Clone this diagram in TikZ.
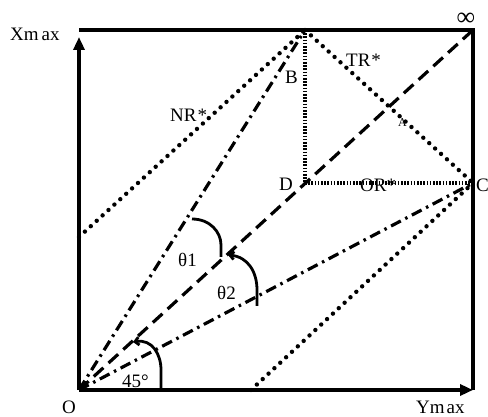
\documentclass[tikz,border=0pt]{standalone}
\usepackage{fontspec}
\setmainfont{Liberation Serif}
\usetikzlibrary{arrows.meta}
\begin{document}
\begin{tikzpicture}[x=1pt,y=-1pt,
  axisline/.style={line width=3.8pt,-{Triangle[length=13pt,width=11pt]}},
  frameline/.style={line width=3.2pt},
  dashline/.style={line width=3.2pt,dash pattern=on 13pt off 7pt},
  dashdotline/.style={line width=3.2pt,dash pattern=on 11pt off 5pt on 2.5pt off 5pt},
  dotline/.style={line width=4.4pt,line cap=round,dash pattern=on 0pt off 8pt},
  densedot/.style={line width=3.6pt,dash pattern=on 1.6pt off 1.6pt},
  arcline/.style={line width=2.8pt},
  tipmark/.style={{Straight Barb[length=4pt,width=8pt]}-},
  lbl/.style={font=\fontsize{19}{19}\selectfont,inner sep=0pt},
  smalllbl/.style={font=\fontsize{12}{12}\selectfont,inner sep=0pt}]
\useasboundingbox (0,0) rectangle (488,417);
% key points
\coordinate (O) at (79,390);
\coordinate (TL) at (79,30);
\coordinate (Xtip) at (79,37);
\coordinate (Inf) at (473,30);
\coordinate (BR) at (473,390);
\coordinate (Bt) at (305,30);
\coordinate (D) at (305,183);
\coordinate (C) at (473,183);
\coordinate (N) at (79,237);
\coordinate (L) at (251,390);
% frame and axes
\draw[frameline] (TL) -- (Inf) -- (BR);
\draw[axisline] (O) -- (Xtip);
\draw[axisline] (O) -- (BR);
% rays from the origin
\draw[dashline] (O) -- (Inf);
\draw[dashdotline] (O) -- (Bt);
\draw[dashdotline] (O) -- (C);
% dotted lines
\draw[dotline] (N) -- (Bt);
\draw[dotline] (Bt) -- (C);
\draw[dotline] (L) -- (C);
\draw[densedot] (Bt) -- (D);
\draw[densedot] (D) -- (C);
% angle arcs
\coordinate (a45s) at (133,342);
\coordinate (a45e) at (161,390);
\draw[arcline,tipmark] (a45s) .. controls (152,339) and (161,354) .. (161,370) -- (a45e);
\coordinate (t1s) at (192,219);
\coordinate (t1e) at (221,257);
\draw[arcline] (t1s) .. controls (210,219) and (221,232) .. (221,245) -- (t1e);
\coordinate (t2s) at (228,255);
\coordinate (t2e) at (257,306);
\draw[arcline,tipmark] (t2s) .. controls (248,257) and (257,272) .. (257,290) -- (t2e);
% labels
\node[lbl,anchor=base west] (lXmax) at (10,41) {Xm\kern3pt ax};
\node[lbl,anchor=base west] (lO) at (62,413) {O};
\node[lbl,anchor=base west] (lYmax) at (416,413) {Ym\kern2pt ax};
\node[font=\fontsize{26}{26}\selectfont,inner sep=0pt,anchor=center] (lInf) at (466,19) {∞};
\node[lbl,anchor=base west] (lTR) at (346,67) {TR\kern1pt *};
\node[lbl,anchor=base west] (lNR) at (170,122) {NR\kern1pt *};
\node[lbl,anchor=base west] (lB) at (285,84) {B};
\node[lbl,anchor=base west] (lD) at (279,191) {D};
\node[lbl,anchor=base west] (lOR) at (360,192) {OR*};
\node[lbl,anchor=base west] (lC) at (476,192) {C};
\node[smalllbl,anchor=base west] (lA) at (398,127) {A};
\node[lbl,anchor=base west] (lt1) at (178,266) {θ1};
\node[lbl,anchor=base west] (lt2) at (217,300) {θ2};
\node[lbl,anchor=base west] (l45) at (122,387) {45°};
\end{tikzpicture}
\end{document}
